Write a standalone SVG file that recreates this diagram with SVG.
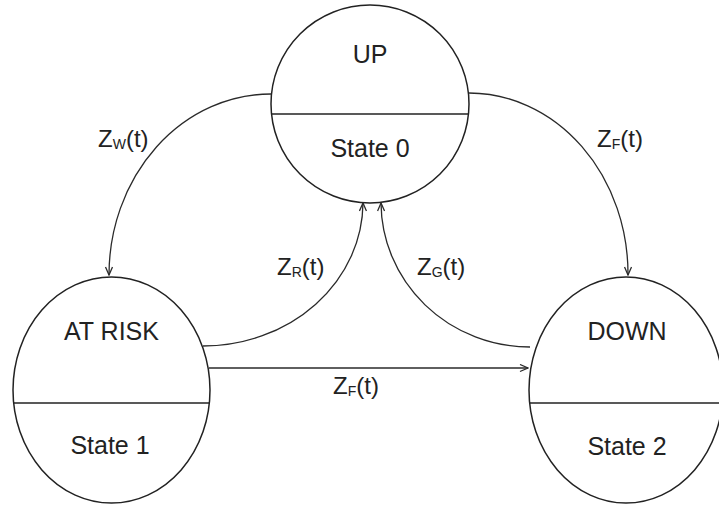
<svg xmlns="http://www.w3.org/2000/svg" width="719" height="508" viewBox="0 0 719 508">
<style>
.node{fill:#fff;stroke:#222;stroke-width:1.5}
.div{stroke:#222;stroke-width:1.5}
.conn{fill:none;stroke:#2a2a2a;stroke-width:1.3}
.ntext{font-family:"Liberation Sans",Arial,sans-serif;font-size:25px;fill:#222;text-anchor:middle}
.lbl{font-family:"Liberation Sans",Arial,sans-serif;font-size:24px;fill:#222}
.sub{font-size:14px}
</style>
<defs>
<marker id="arr" markerUnits="userSpaceOnUse" markerWidth="10" markerHeight="10" refX="9" refY="4" orient="auto">
<path d="M1,0.5 L9,4 L1,7.5" fill="none" stroke="#2a2a2a" stroke-width="1.3"/>
</marker>
</defs>
<rect width="719" height="508" fill="#fff"/>
<g id="state0">
<circle class="node" cx="370" cy="104" r="99"/>
<line class="div" x1="271.5" y1="114" x2="468.5" y2="114"/>
<text class="ntext" x="370" y="63">UP</text>
<text class="ntext" x="370" y="157">State 0</text>
</g>
<g id="state1">
<ellipse class="node" cx="111.5" cy="390" rx="98.5" ry="113"/>
<line class="div" x1="13.6" y1="403" x2="209.4" y2="403"/>
<text class="ntext" x="111.5" y="340">AT RISK</text>
<text class="ntext" x="110" y="454">State 1</text>
</g>
<g id="state2">
<ellipse class="node" cx="626" cy="390" rx="97" ry="113"/>
<line class="div" x1="530" y1="403" x2="719" y2="403"/>
<text class="ntext" x="627" y="340">DOWN</text>
<text class="ntext" x="627" y="455">State 2</text>
</g>
<g id="connectors">
<path class="conn" d="M271,94 A162,181 0 0,0 109,275" marker-end="url(#arr)"/>
<path class="conn" d="M469,93 A159,181 0 0,1 628,275" marker-end="url(#arr)"/>
<path class="conn" d="M203,346 A160,144 0 0,0 363,203" marker-end="url(#arr)"/>
<path class="conn" d="M530,347 A149,145 0 0,1 381,203" marker-end="url(#arr)"/>
<path class="conn" d="M209,368 L528,368" marker-end="url(#arr)"/>
<text class="lbl" x="98" y="147">Z<tspan class="sub" dy="2">W</tspan><tspan dy="-2">(t)</tspan></text>
<text class="lbl" x="597" y="147">Z<tspan class="sub" dy="2">F</tspan><tspan dy="-2">(t)</tspan></text>
<text class="lbl" x="277" y="275">Z<tspan class="sub" dy="2">R</tspan><tspan dy="-2">(t)</tspan></text>
<text class="lbl" x="417" y="275">Z<tspan class="sub" dy="2">G</tspan><tspan dy="-2">(t)</tspan></text>
<text class="lbl" x="333" y="394">Z<tspan class="sub" dy="2">F</tspan><tspan dy="-2">(t)</tspan></text>
</g>
</svg>
